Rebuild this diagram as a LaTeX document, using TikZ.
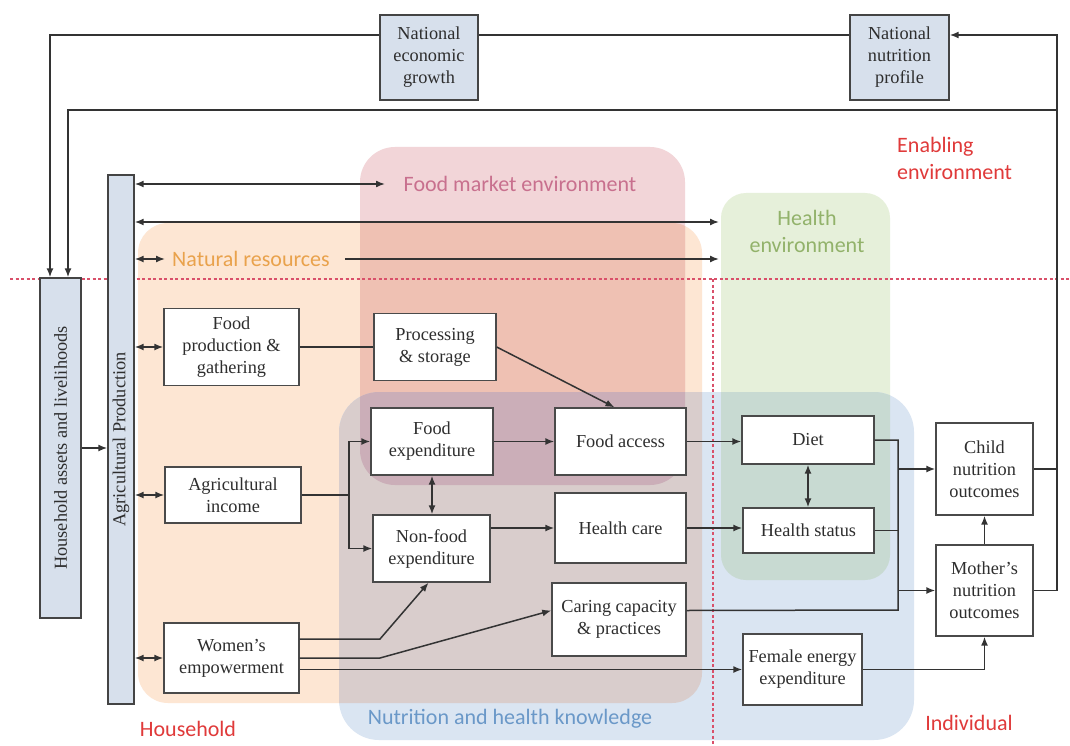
\documentclass[tikz,border=0pt]{standalone}
\usepackage{fontspec}
\setmainfont{Liberation Serif}
\newfontfamily\lbfamily{Carlito}
\usetikzlibrary{arrows.meta,calc}
\definecolor{cO}{HTML}{FDE6D3}
\definecolor{cR}{HTML}{F2D5D8}
\definecolor{cOR}{HTML}{EFC1B3}
\definecolor{cB}{HTML}{DAE5F2}
\definecolor{cOB}{HTML}{D9CDCC}
\definecolor{cORB}{HTML}{CBAEB8}
\definecolor{cG}{HTML}{E6F0DA}
\definecolor{cGB}{HTML}{C8DAD2}
\definecolor{bline}{HTML}{4A4A4A}
\definecolor{btxt}{HTML}{2E2E2E}
\definecolor{cline}{HTML}{333333}
\definecolor{natfill}{HTML}{D7E0EC}
\definecolor{natline}{HTML}{444444}
\definecolor{sepred}{HTML}{D9506A}
\definecolor{fmc}{HTML}{C8708E}
\definecolor{nrc}{HTML}{E9A24C}
\definecolor{hec}{HTML}{92B26A}
\definecolor{redc}{HTML}{E03A3A}
\definecolor{nhc}{HTML}{6A98C8}
\newcommand\bxfont{\fontsize{18.3}{22}\selectfont}
\newcommand\lbfont{\lbfamily\fontsize{22}{27}\selectfont}
\begin{document}
\begin{tikzpicture}[x=1pt,y=-1pt,
  bx/.style={draw=bline, line width=1.4pt, fill=white, inner sep=1pt, align=center, font=\bxfont, text=btxt},
  sz/.style 2 args={minimum width=#1pt, minimum height=#2pt},
  nat/.style={bx, fill=natfill, draw=natline},
  rtxt/.style={rotate=90, font=\bxfont, text=btxt, inner sep=0pt},
  con/.style={draw=cline, line width=1.5pt},
  arr/.style={con, -{Latex[length=9pt,width=7pt]}},
  darr/.style={con, {Latex[length=9pt,width=7pt]}-{Latex[length=9pt,width=7pt]}},
  lab/.style={font=\lbfont, inner sep=0pt},
  sep/.style={draw=sepred, line width=1.3pt, dash pattern=on 3pt off 2.5pt}
]
\useasboundingbox (0,0) rectangle (1070,746);
\fill[white] (0,0) rectangle (1070,746);

% regions
\fill[cO, rounded corners=30pt] (138,223) rectangle (702,703);
\fill[cR, rounded corners=35pt] (360,147) rectangle (685,485);
\fill[cG, rounded corners=25pt] (721,193) rectangle (890,580);
\fill[cB, rounded corners=40pt] (339,392) rectangle (914,740);
\begin{scope}
  \clip[rounded corners=30pt] (138,223) rectangle (702,703);
  \fill[cOR, rounded corners=35pt] (360,147) rectangle (685,485);
\end{scope}
\begin{scope}
  \clip[rounded corners=30pt] (138,223) rectangle (702,703);
  \fill[cOB, rounded corners=40pt] (339,392) rectangle (914,740);
\end{scope}
\begin{scope}
  \clip[rounded corners=30pt] (138,223) rectangle (702,703);
  \clip[rounded corners=35pt] (360,147) rectangle (685,485);
  \fill[cORB, rounded corners=40pt] (339,392) rectangle (914,740);
\end{scope}
\begin{scope}
  \clip[rounded corners=25pt] (721,193) rectangle (890,580);
  \fill[cGB, rounded corners=40pt] (339,392) rectangle (914,740);
\end{scope}

% separators
\draw[sep] (10,279) -- (1070,279);
\draw[sep] (713,279) -- (713,746);

% region labels
\node[lab, text=fmc] (FMlab) at (520,184) {Food market environment};
\node[lab, text=nrc] (NRlab) at (251,259) {Natural resources};
\node[lab, text=hec, align=center] (HElab) at (807,231) {Health\\environment};
\node[lab, text=redc, align=left, anchor=west] (EElab) at (897,158) {Enabling\\environment};
\node[lab, text=redc] (HHlab) at (188,729) {Household};
\node[lab, text=nhc] (NHlab) at (510,719) {Nutrition and health knowledge};
\node[lab, text=redc] (INlab) at (969,723) {Individual};

% boxes
\node[nat, sz={98}{85}] (NEG) at (429,57.5) {National\\economic\\growth};
\node[nat, sz={99}{85}] (NNP) at (899.5,57.5) {National\\nutrition\\profile};
\node[nat, sz={41}{340}] (HH) at (60.5,448) {};
\node[rtxt] (HHt) at (HH.center) {Household assets and livelihoods};
\node[nat, sz={26}{529}] (AP) at (121,439.5) {};
\node[rtxt] (APt) at (AP.center) {Agricultural Production};
\node[bx, sz={135}{77}] (FP) at (231.5,347) {Food\\production \&\\gathering};
\node[bx, sz={136}{56}] (AI) at (233,495) {Agricultural\\income};
\node[bx, sz={135}{70}] (WE) at (231.5,658) {Women's\\empowerment};
\node[bx, sz={122}{67}] (PS) at (435,347) {Processing\\\& storage};
\node[bx, sz={122}{67}] (FE) at (432,441.5) {Food\\expenditure};
\node[bx, sz={117}{67}] (NF) at (431.5,548.5) {Non-food\\expenditure};
\node[bx, sz={131}{67}] (FA) at (620.5,441.5) {Food access};
\node[bx, sz={131}{70}] (HC) at (620.5,528) {Health care};
\node[bx, sz={134}{73}] (CC) at (619,619.5) {Caring capacity\\\& practices};
\node[bx, sz={132}{48}] (DT) at (808,440) {Diet};
\node[bx, sz={131}{45}] (HS) at (808.5,530.5) {Health status};
\node[bx, sz={119}{71}] (FEE) at (802.5,669.5) {Female energy\\expenditure};
\node[bx, sz={97}{92}] (CN) at (984.5,469) {Child\\nutrition\\outcomes};
\node[bx, sz={97}{91}] (MN) at (984.5,590.5) {Mother's\\nutrition\\outcomes};

% coordinates
\coordinate (top) at (0,35);
\coordinate (rt) at (1057,35);
\coordinate (rm) at (1057,110);
\coordinate (hhA) at ($(HH.north)+(-10.5,0)$);
\coordinate (hhB) at ($(HH.north)+(7.5,0)$);
\coordinate (fmT) at (385,184);
\coordinate (heA) at (719,222);
\coordinate (heB) at (719,259);
\coordinate (jn) at (349,495);
\coordinate (wb1) at (380,639);
\coordinate (wb2) at (380,658);
\coordinate (vx) at (898,610);

% feedback loops
\draw[con] (NNP.west |- top) -- (NEG.east |- top);
\draw[arr] (NEG.west |- top) -| (hhA);
\draw[arr] (MN.east) -| (rt) -- (NNP.east |- top);
\draw[con] (CN.east) -- (CN.east -| rt);
\draw[arr] (rm) -| (hhB);

% left column
\draw[arr] (HH.east) -- (HH.east -| AP.west);
\draw[darr] (AP.east |- fmT) -- (fmT);
\draw[darr] (AP.east |- heA) -- (heA);
\draw[darr] (AP.east |- NRlab) -- ([xshift=-7pt]NRlab.west);
\draw[arr] ([xshift=15pt]NRlab.east) -- (heB);
\draw[darr] (AP.east |- FP.west) -- (FP.west);
\draw[darr] (AP.east |- AI.west) -- (AI.west);
\draw[darr] (AP.east |- WE.west) -- (WE.west);

% middle
\draw[con] (FP.east) -- (PS.west);
\draw[arr] (PS.east) -- ([xshift=-6pt]FA.north);
\draw[con] (AI.east) -- (jn);
\draw[arr] (jn) |- (FE.west);
\draw[arr] (jn) |- (NF.west);
\draw[darr] (FE.south) -- (FE.south |- NF.north);
\draw[arr] (FE.east) -- (FA.west);
\draw[arr] (HC.west -| NF.east) -- (HC.west);
\draw[arr] ($(WE.east)+(0,-19)$) -- (wb1) -- ([xshift=-3pt]NF.south);
\draw[arr] (WE.east) -- (wb2) -- ($(CC.west)+(0,-9)$);
\draw[arr] (WE.east |- FEE.west) -- (FEE.west);

% right
\draw[arr] (FA.east) -- (FA.east -| DT.west);
\draw[arr] (HC.east) -- (HC.east -| HS.west);
\draw[darr] (DT.south) -- (DT.south |- HS.north);
\draw[con] (DT.east) -| (vx) -- ($(CC.east)+(0,-9)$);
\draw[con] (HS.east) -- (HS.east -| vx);
\draw[arr] (vx |- CN.west) -- (CN.west);
\draw[arr] (vx |- MN.west) -- (MN.west);
\draw[arr] (MN.north) -- (CN.south);
\draw[arr] (FEE.east) -| (MN.south);
\end{tikzpicture}
\end{document}
